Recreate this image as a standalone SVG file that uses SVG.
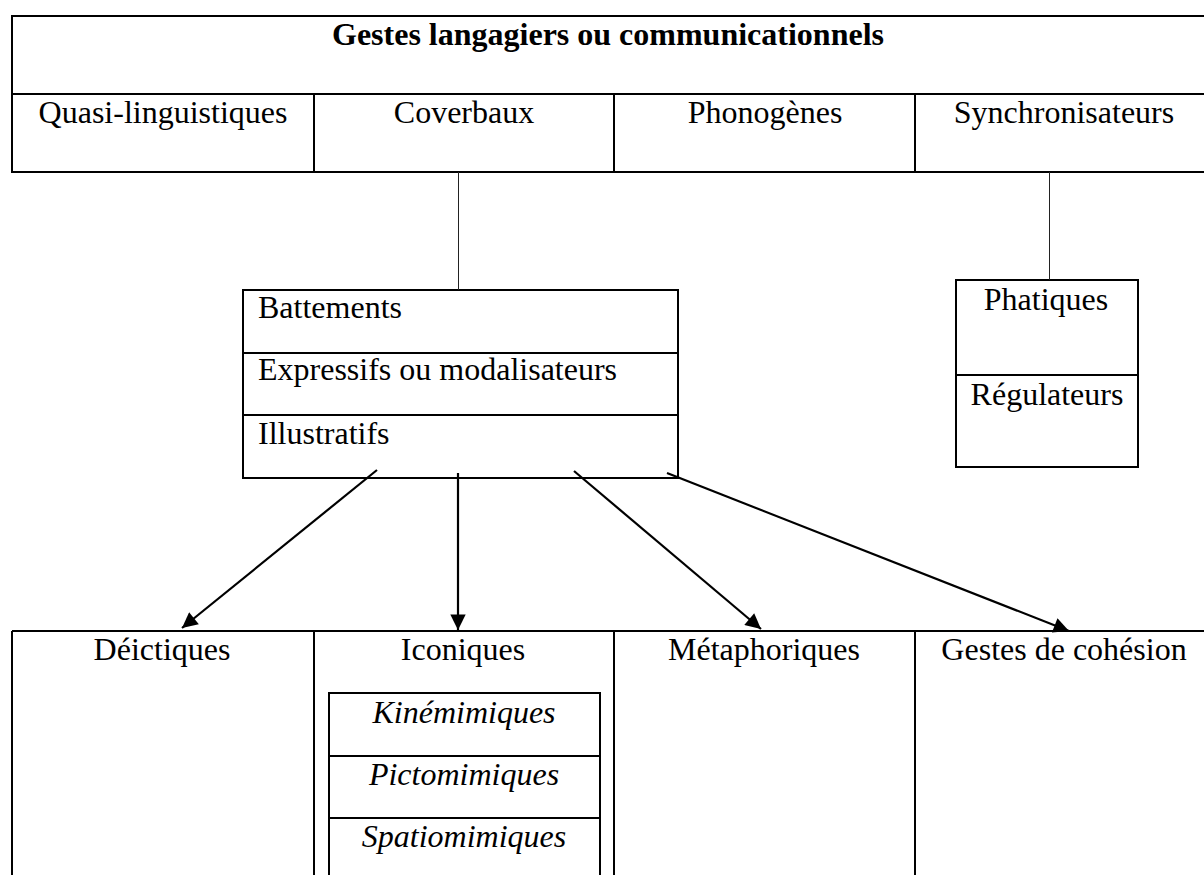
<svg xmlns="http://www.w3.org/2000/svg" width="1204" height="875" viewBox="0 0 1204 875">
<style>
  .box { fill: none; stroke: #000; stroke-width: 2; }
  .ln { stroke: #000; stroke-width: 2; }
  .thin { stroke: #222; stroke-width: 1; fill: none; }
  .arr { stroke: #000; stroke-width: 2.2; fill: none; marker-end: url(#ah); }
  text { font-family: "Liberation Serif", "Times New Roman", serif; font-size: 32px; fill: #000; }
  .c { text-anchor: middle; }
  .b { font-weight: bold; }
  .i { font-style: italic; }
</style>
<defs>
  <marker id="ah" viewBox="0 0 10 10" refX="10" refY="5" markerWidth="7.5" markerHeight="7" markerUnits="strokeWidth" orient="auto">
    <path d="M0,0 L10,5 L0,10 z" fill="#000"/>
  </marker>
</defs>
<rect width="1204" height="875" fill="#fff"/>

<g id="top-table">
  <rect class="box" x="12" y="16" width="1194" height="156"/>
  <line class="ln" x1="12" y1="94" x2="1206" y2="94"/>
  <line class="ln" x1="314" y1="94" x2="314" y2="172"/>
  <line class="ln" x1="614" y1="94" x2="614" y2="172"/>
  <line class="ln" x1="915" y1="94" x2="915" y2="172"/>
  <text class="c b" x="608" y="45">Gestes langagiers ou communicationnels</text>
</g>
<g id="quasi"><text class="c" x="163" y="123">Quasi-linguistiques</text></g>
<g id="coverbaux"><text class="c" x="464" y="123">Coverbaux</text></g>
<g id="phonogenes"><text class="c" x="765" y="123">Phonogènes</text></g>
<g id="synchronisateurs"><text class="c" x="1064" y="123">Synchronisateurs</text></g>

<g id="coverbaux-sub">
  <rect class="box" x="243" y="290" width="435" height="188"/>
  <line class="ln" x1="243" y1="353" x2="678" y2="353"/>
  <line class="ln" x1="243" y1="415" x2="678" y2="415"/>
  <text x="258" y="318">Battements</text>
  <text x="258" y="380">Expressifs ou modalisateurs</text>
  <text x="258" y="444">Illustratifs</text>
</g>

<g id="synchro-sub">
  <rect class="box" x="956" y="280" width="182" height="187"/>
  <line class="ln" x1="956" y1="375" x2="1138" y2="375"/>
  <text class="c" x="1046" y="310">Phatiques</text>
  <text class="c" x="1047" y="405">Régulateurs</text>
</g>

<g id="bottom-table">
  <line class="ln" x1="12" y1="631" x2="1206" y2="631"/>
  <line class="ln" x1="12" y1="631" x2="12" y2="876"/>
  <line class="ln" x1="314" y1="631" x2="314" y2="876"/>
  <line class="ln" x1="614" y1="631" x2="614" y2="876"/>
  <line class="ln" x1="915" y1="631" x2="915" y2="876"/>
</g>
<g id="deictiques"><text class="c" x="162" y="660">Déictiques</text></g>
<g id="iconiques">
  <text class="c" x="463" y="660">Iconiques</text>
  <rect class="box" x="329" y="693" width="271" height="190"/>
  <line class="ln" x1="329" y1="756" x2="600" y2="756"/>
  <line class="ln" x1="329" y1="818" x2="600" y2="818"/>
  <text class="c i" x="464" y="723">Kinémimiques</text>
  <text class="c i" x="464" y="785">Pictomimiques</text>
  <text class="c i" x="464" y="847">Spatiomimiques</text>
</g>
<g id="metaphoriques"><text class="c" x="764" y="660">Métaphoriques</text></g>
<g id="cohesion"><text class="c" x="1064" y="660">Gestes de cohésion</text></g>

<g id="connectors">
  <line class="thin" x1="458.5" y1="172" x2="458.5" y2="290"/>
  <line class="thin" x1="1049.5" y1="172" x2="1049.5" y2="280"/>
  <line class="arr" x1="377" y1="470" x2="182" y2="628"/>
  <line class="arr" x1="458" y1="473" x2="458" y2="630"/>
  <line class="arr" x1="574" y1="471" x2="761" y2="629"/>
  <line class="arr" x1="667" y1="473" x2="1069" y2="631"/>
</g>
</svg>
